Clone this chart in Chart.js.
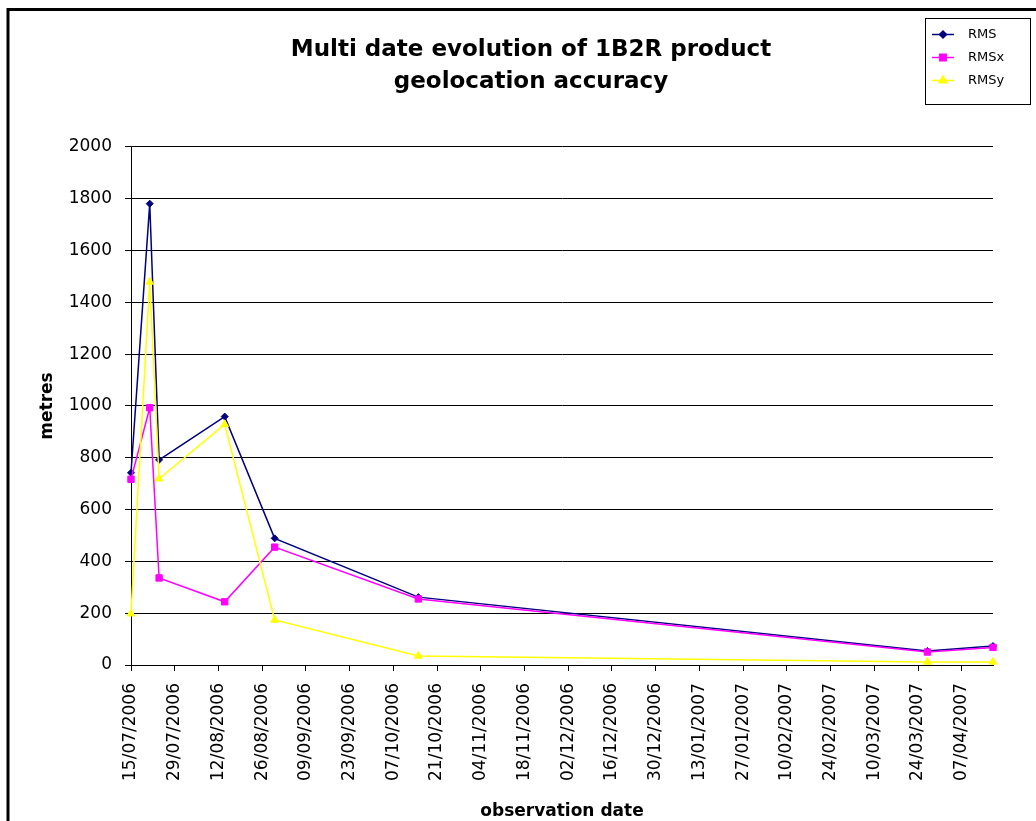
<!DOCTYPE html>
<html>
<head>
<meta charset="utf-8">
<script src="https://cdn.jsdelivr.net/npm/chart.js@4.4.1/dist/chart.umd.min.js"></script>
<style>
html,body{margin:0;padding:0;background:#ffffff;}
canvas{display:block;}
</style>
</head>
<body>
<canvas id="chart" width="1036" height="821"></canvas>
<script>
// ---- data ----
const observationDates = ['15/07/2006','21/07/2006','24/07/2006','14/08/2006','30/08/2006','15/10/2006','27/03/2007','17/04/2007'];
const rmsValues  = [742, 1781, 792, 959, 489, 262, 54, 73];
const rmsxValues = [717, 993, 336, 244, 455, 255, 50, 68];
const rmsyValues = [198, 1479, 719, 929, 174, 35, 12, 12];
const seriesLabels = ['RMS', 'RMSx', 'RMSy'];
const tickLabels = ['15/07/2006','29/07/2006','12/08/2006','26/08/2006','09/09/2006','23/09/2006',
  '07/10/2006','21/10/2006','04/11/2006','18/11/2006','02/12/2006','16/12/2006','30/12/2006',
  '13/01/2007','27/01/2007','10/02/2007','24/02/2007','10/03/2007','24/03/2007','07/04/2007'];
const axisStartDate = '15/07/2006';
const axisEndDate = '17/04/2007';
const yMin = 0, yMax = 2000, yStep = 200;
const chartTitle = ['Multi date evolution of 1B2R product', 'geolocation accuracy'];
const xTitle = 'observation date';
const yTitle = 'metres';

function toDay(s) {
  const p = s.split('/').map(Number);
  return Date.UTC(p[2], p[1] - 1, p[0]) / 86400000;
}
function pts(values) {
  return values.map((v, i) => ({x: toDay(observationDates[i]), y: v}));
}

const FONT = '"DejaVu Sans", "Liberation Sans", Arial, sans-serif';

const frameAndLegend = {
  id: 'frameAndLegend',
  afterLayout(chart) {
    // centre the title like the reference
    if (chart.titleBlock) { chart.titleBlock.left = 26; chart.titleBlock.right = 1036; }
  },
  beforeDraw(chart) {
    const ctx = chart.ctx;
    ctx.save();
    ctx.strokeStyle = '#000';
    ctx.lineWidth = 3;
    ctx.beginPath();
    ctx.moveTo(8, 900);
    ctx.lineTo(8, 9.5);
    ctx.lineTo(1100, 9.5);
    ctx.stroke();
    ctx.restore();
  },
  afterDraw(chart) {
    const ctx = chart.ctx;
    ctx.save();
    ctx.strokeStyle = '#000';
    ctx.lineWidth = 1;
    ctx.strokeRect(925.5, 18.5, 105, 86);
    chart.data.datasets.forEach((ds, i) => {
      const y = 34.5 + i * 23;
      ctx.strokeStyle = ds.borderColor;
      ctx.lineWidth = 1.5;
      ctx.beginPath();
      ctx.moveTo(932, y);
      ctx.lineTo(954, y);
      ctx.stroke();
      ctx.fillStyle = ds.pointBackgroundColor;
      ctx.strokeStyle = ds.pointBorderColor;
      Chart.helpers.drawPoint(ctx, {pointStyle: ds.pointStyle, radius: ds.pointRadius, borderWidth: 1, rotation: 0}, 943, y);
      ctx.fillStyle = '#000';
      ctx.font = '13px ' + FONT;
      ctx.textBaseline = 'middle';
      ctx.textAlign = 'left';
      ctx.fillText(ds.label, 968, y + 0.5);
    });
    ctx.restore();
  }
};

const colors = ['#000080', '#FF00FF', '#FFFF00'];
const styles = ['rectRot', 'rect', 'triangle'];
const radii = [3.5, 4.5, 4.5];
const drawOrder = [2, 1, 0];
const valuesList = [rmsValues, rmsxValues, rmsyValues];

const datasets = seriesLabels.map((lab, i) => ({
  label: lab,
  data: pts(valuesList[i]),
  order: drawOrder[i],
  borderColor: colors[i],
  backgroundColor: colors[i],
  pointBackgroundColor: colors[i],
  pointBorderColor: colors[i],
  pointStyle: styles[i],
  pointRadius: radii[i],
  pointBorderWidth: 1,
  borderWidth: 1.5,
  tension: 0,
  clip: false
}));

new Chart(document.getElementById('chart'), {
  type: 'line',
  data: {datasets: datasets},
  plugins: [frameAndLegend],
  options: {
    responsive: false,
    animation: false,
    devicePixelRatio: 1,
    layout: {padding: {left: 0, top: 0, right: 43, bottom: 0}},
    plugins: {
      legend: {display: false},
      tooltip: {enabled: false},
      title: {
        display: true,
        text: chartTitle,
        color: '#000',
        font: {family: FONT, size: 23, weight: 'bold', lineHeight: 1.39},
        padding: {top: 34, bottom: 49}
      }
    },
    scales: {
      x: {
        type: 'linear',
        min: toDay(axisStartDate),
        max: toDay(axisEndDate),
        afterBuildTicks: (scale) => { scale.ticks = tickLabels.map(t => ({value: toDay(t)})); },
        afterFit: (scale) => { scale.height = 156; },
        grid: {drawOnChartArea: false, drawTicks: true, tickLength: 6, color: '#000', lineWidth: 1},
        border: {display: true, color: '#000', width: 1},
        ticks: {
          autoSkip: false,
          minRotation: 90,
          maxRotation: 90,
          padding: 12,
          color: '#000',
          font: {family: FONT, size: 17},
          callback: (value, index) => tickLabels[index]
        },
        title: {
          display: true,
          text: xTitle,
          color: '#000',
          font: {family: FONT, size: 17, weight: 'bold'},
          padding: {top: 0, bottom: -1}
        }
      },
      y: {
        min: yMin,
        max: yMax,
        afterFit: (scale) => { scale.width = 131; },
        grid: {drawOnChartArea: true, drawTicks: true, tickLength: 6, color: '#000', lineWidth: 1},
        border: {display: true, color: '#000', width: 1},
        ticks: {
          stepSize: yStep,
          padding: 13,
          color: '#000',
          font: {family: FONT, size: 17},
          callback: (value) => String(value)
        },
        title: {
          display: true,
          text: yTitle,
          color: '#000',
          font: {family: FONT, size: 17, weight: 'bold'},
          padding: {top: 37, bottom: 0}
        }
      }
    }
  }
});
</script>
</body>
</html>
